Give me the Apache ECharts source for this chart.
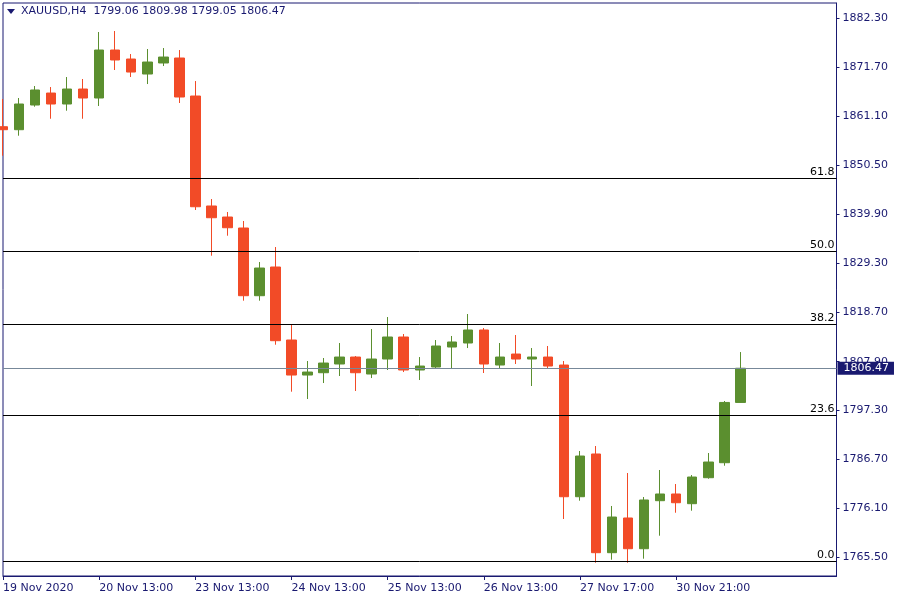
<!DOCTYPE html>
<html><head><meta charset="utf-8">
<script src="https://cdn.jsdelivr.net/npm/echarts@6/dist/echarts.min.js"></script>
<style>html,body{margin:0;padding:0;background:#fff}#c{width:900px;height:600px}</style>
</head><body><div id="c"></div>
<script>
const categories = ["19 Nov 2020","19 Nov 17:00","19 Nov 21:00","20 Nov 01:00","20 Nov 05:00","20 Nov 09:00",
"20 Nov 13:00","20 Nov 17:00","20 Nov 21:00","23 Nov 01:00","23 Nov 05:00","23 Nov 09:00",
"23 Nov 13:00","23 Nov 17:00","23 Nov 21:00","24 Nov 01:00","24 Nov 05:00","24 Nov 09:00",
"24 Nov 13:00","24 Nov 17:00","24 Nov 21:00","25 Nov 01:00","25 Nov 05:00","25 Nov 09:00",
"25 Nov 13:00","25 Nov 17:00","25 Nov 21:00","26 Nov 01:00","26 Nov 05:00","26 Nov 09:00",
"26 Nov 13:00","26 Nov 17:00","27 Nov 01:00","27 Nov 05:00","27 Nov 09:00","27 Nov 13:00",
"27 Nov 17:00","30 Nov 01:00","30 Nov 05:00","30 Nov 09:00","30 Nov 13:00","30 Nov 17:00",
"30 Nov 21:00","1 Dec 01:00","1 Dec 05:00","1 Dec 09:00","1 Dec 13:00",
"","","","","",""];
const openV  = [1858.81,1858.16,1863.51,1866.11,1863.73,1866.98,1865.03,1875.43,1873.48,1870.23,1872.62,1873.70,
1865.46,1841.63,1839.24,1836.86,1822.19,1828.41,1812.59,1805.00,1805.50,1807.39,1808.90,1805.22,
1808.47,1813.24,1806.09,1806.74,1811.07,1811.94,1814.76,1807.17,1809.55,1808.47,1808.90,1807.17,
1778.63,1787.89,1766.50,1774.02,1767.36,1777.77,1779.22,1777.12,1782.75,1786.00,1799.06];
const closeV = [1858.16,1863.73,1866.77,1863.73,1866.98,1865.03,1875.43,1873.27,1870.66,1872.83,1873.91,1865.25,
1841.47,1839.09,1836.92,1822.19,1828.19,1812.44,1805.00,1805.65,1807.60,1808.90,1805.50,1808.47,
1813.24,1806.09,1806.95,1811.29,1812.16,1814.76,1807.39,1808.90,1808.47,1808.90,1806.95,1778.63,
1787.45,1766.50,1774.23,1767.36,1777.92,1779.22,1777.33,1782.90,1786.15,1799.06,1806.47];
const lowV   = [1852.53,1856.86,1863.15,1860.54,1862.28,1860.54,1863.30,1871.10,1869.58,1868.06,1871.96,1863.95,
1840.76,1830.86,1835.19,1821.11,1821.11,1811.57,1801.39,1799.80,1803.27,1804.79,1801.54,1804.35,
1806.09,1805.65,1803.92,1806.52,1806.52,1810.85,1805.44,1806.52,1807.39,1802.62,1806.52,1773.80,
1777.77,1764.33,1764.98,1764.33,1765.20,1770.18,1775.16,1775.60,1782.53,1785.35,1799.05];
const highV  = [1864.82,1865.03,1867.63,1867.41,1869.58,1869.15,1879.33,1879.55,1874.56,1875.65,1875.86,1875.43,
1868.71,1843.14,1840.33,1838.38,1829.49,1832.74,1815.84,1808.04,1808.69,1811.94,1809.12,1814.97,
1817.57,1813.89,1808.90,1812.59,1813.46,1818.22,1815.19,1811.94,1813.67,1810.85,1811.29,1808.04,
1788.54,1789.62,1776.62,1783.77,1778.57,1784.42,1781.38,1783.33,1788.10,1799.37,1809.98];
const priceTicks = [1765.50,1776.10,1786.70,1797.30,1807.90,1818.70,1829.30,1839.90,1850.50,1861.10,1871.70,1882.30];
const fibLabels = ["0.0","23.6","38.2","50.0","61.8"];
const fibPrices = [1764.55,1796.27,1815.95,1831.80,1847.65];
const lastPrice = 1806.47;
const headerText = "XAUUSD,H4  1799.06 1809.98 1799.05 1806.47";

const NAVY = '#191970';
const UP = '#5B8F2F', DOWN = '#F24B27';
const FONT = 'DejaVu Sans';

const candleData = openV.map((o,i)=>[o, closeV[i], lowV[i], highV[i]]);
while (candleData.length < categories.length) candleData.push('-');

const fibMarks = fibPrices.map((p,i)=>({
  yAxis: p,
  lineStyle:{color:'#000', width:1, type:'solid'},
  label:{show:true, position:'insideEndTop', formatter: fibLabels[i], color:'#000',
         fontFamily:FONT, fontSize:11, distance:[2,1]}
}));
fibMarks.push({
  yAxis: lastPrice,
  lineStyle:{color:'#778899', width:1, type:'solid'},
  label:{show:true, position:'end', formatter: lastPrice.toFixed(2), color:'#fff',
         backgroundColor:NAVY, fontFamily:FONT, fontSize:11, lineHeight:13,
         padding:[0,5,0,6], distance:1}
});

const chart = echarts.init(document.getElementById('c'), null, {renderer:'canvas'});
chart.setOption({
  animation:false,
  backgroundColor:'#fff',
  grid:{left:3, right:63.5, top:3, bottom:24, show:true, borderColor:NAVY, borderWidth:1, backgroundColor:'transparent'},
  xAxis:{
    type:'category', data:categories, boundaryGap:false,
    axisLine:{show:true, lineStyle:{color:NAVY, width:1}},
    axisTick:{show:true, interval:5, length:4, lineStyle:{color:NAVY}},
    axisLabel:{interval:5, color:NAVY, fontFamily:FONT, fontSize:11, align:'left', margin:7, showMaxLabel:false},
    splitLine:{show:false}
  },
  yAxis:{
    type:'value', position:'right', min:1761.45, max:1885.62, scale:true,
    axisLine:{show:true, lineStyle:{color:NAVY, width:1}},
    axisTick:{show:true, length:3, inside:false, lineStyle:{color:NAVY}, customValues:priceTicks},
    axisLabel:{color:NAVY, fontFamily:FONT, fontSize:11, margin:6, customValues:priceTicks,
               formatter:v=>v.toFixed(2)},
    splitLine:{show:false}
  },
  series:[{
    type:'candlestick', data:candleData, barWidth:10, clip:true,
    itemStyle:{color:UP, color0:DOWN, borderColor:UP, borderColor0:DOWN, borderWidth:1},
    markLine:{symbol:['none','none'], silent:true, animation:false, data:fibMarks}
  }],
  graphic:[
    {type:'polygon', shape:{points:[[7,9],[15,9],[11,14]]}, style:{fill:NAVY}, z:100},
    {type:'text', left:21, top:6, style:{text:headerText, fill:NAVY, font:'11px "DejaVu Sans"'}, z:100}
  ]
});
</script>
</body></html>
